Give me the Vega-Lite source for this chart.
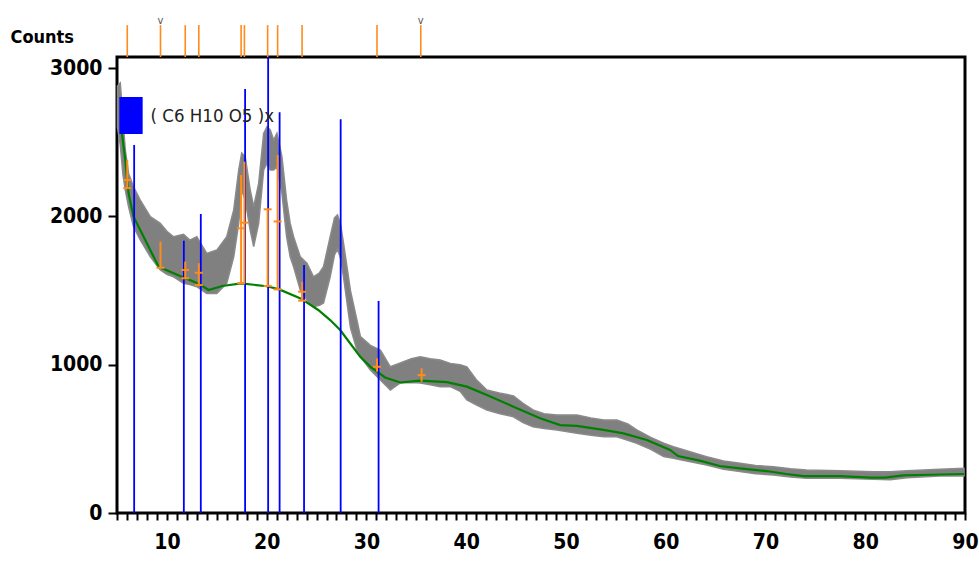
{
  "$schema": "https://vega.github.io/schema/vega-lite/v6.json",
  "width": 848,
  "height": 456,
  "autosize": "none",
  "padding": {"left": 117, "top": 57, "right": 14, "bottom": 54},
  "background": "white",
  "config": {
    "view": {"stroke": "black", "strokeWidth": 3},
    "font": "DejaVu Sans Condensed, sans-serif"
  },
  "datasets": {
    "band": [
      {"t": 5.05, "hi": 2880, "lo": 2600}, {"t": 5.33, "hi": 2900, "lo": 2480}, {"t": 5.6, "hi": 2650, "lo": 2280},
      {"t": 5.83, "hi": 2450, "lo": 2178}, {"t": 6.16, "hi": 2290, "lo": 2065}, {"t": 6.66, "hi": 2200, "lo": 1931},
      {"t": 7.33, "hi": 2110, "lo": 1841}, {"t": 8.34, "hi": 1998, "lo": 1728}, {"t": 9.34, "hi": 1953, "lo": 1639},
      {"t": 10.0, "hi": 1900, "lo": 1610}, {"t": 10.67, "hi": 1863, "lo": 1593}, {"t": 11.67, "hi": 1880, "lo": 1549},
      {"t": 12.3, "hi": 1840, "lo": 1540}, {"t": 13.0, "hi": 1863, "lo": 1526}, {"t": 14.0, "hi": 1751, "lo": 1481},
      {"t": 15.0, "hi": 1773, "lo": 1481}, {"t": 16.0, "hi": 1863, "lo": 1549}, {"t": 16.7, "hi": 2043, "lo": 1728},
      {"t": 17.2, "hi": 2313, "lo": 1953}, {"t": 17.5, "hi": 2427, "lo": 2178}, {"t": 17.85, "hi": 2403, "lo": 2110},
      {"t": 18.35, "hi": 2178, "lo": 1908}, {"t": 18.7, "hi": 2065, "lo": 1796}, {"t": 19.2, "hi": 2223, "lo": 1953},
      {"t": 19.7, "hi": 2560, "lo": 2313}, {"t": 20.03, "hi": 2605, "lo": 2358}, {"t": 20.36, "hi": 2583, "lo": 2313},
      {"t": 20.7, "hi": 2515, "lo": 2313}, {"t": 21.03, "hi": 2560, "lo": 2335}, {"t": 21.53, "hi": 2403, "lo": 2156},
      {"t": 22.0, "hi": 2110, "lo": 1863}, {"t": 22.36, "hi": 1953, "lo": 1728}, {"t": 22.7, "hi": 1863, "lo": 1661},
      {"t": 23.37, "hi": 1728, "lo": 1504}, {"t": 24.04, "hi": 1684, "lo": 1436}, {"t": 24.7, "hi": 1593, "lo": 1391},
      {"t": 25.3, "hi": 1620, "lo": 1400}, {"t": 25.7, "hi": 1661, "lo": 1416}, {"t": 26.37, "hi": 1863, "lo": 1593},
      {"t": 26.8, "hi": 1990, "lo": 1740}, {"t": 27.1, "hi": 2010, "lo": 1780}, {"t": 27.4, "hi": 1950, "lo": 1720},
      {"t": 27.7, "hi": 1821, "lo": 1593}, {"t": 28.4, "hi": 1500, "lo": 1250}, {"t": 29.05, "hi": 1300, "lo": 1100},
      {"t": 29.4, "hi": 1189, "lo": 1054}, {"t": 30.4, "hi": 1130, "lo": 964}, {"t": 31.4, "hi": 1099, "lo": 897},
      {"t": 32.4, "hi": 986, "lo": 830}, {"t": 33.4, "hi": 1011, "lo": 877}, {"t": 34.5, "hi": 1040, "lo": 880},
      {"t": 35.4, "hi": 1054, "lo": 876}, {"t": 36.4, "hi": 1040, "lo": 865}, {"t": 37.4, "hi": 1032, "lo": 852},
      {"t": 38.4, "hi": 1009, "lo": 852}, {"t": 39.4, "hi": 1000, "lo": 820}, {"t": 40.07, "hi": 986, "lo": 762},
      {"t": 41.0, "hi": 900, "lo": 730}, {"t": 42.07, "hi": 829, "lo": 695}, {"t": 43.3, "hi": 810, "lo": 670},
      {"t": 44.74, "hi": 790, "lo": 649}, {"t": 45.7, "hi": 740, "lo": 610}, {"t": 46.7, "hi": 695, "lo": 582},
      {"t": 47.8, "hi": 670, "lo": 570}, {"t": 49.1, "hi": 661, "lo": 560}, {"t": 51.1, "hi": 661, "lo": 537},
      {"t": 52.5, "hi": 640, "lo": 525}, {"t": 53.8, "hi": 627, "lo": 514}, {"t": 55.1, "hi": 627, "lo": 514},
      {"t": 56.2, "hi": 600, "lo": 490}, {"t": 57.1, "hi": 560, "lo": 470}, {"t": 58.5, "hi": 510, "lo": 430},
      {"t": 59.8, "hi": 470, "lo": 380}, {"t": 60.77, "hi": 447, "lo": 369}, {"t": 62.1, "hi": 420, "lo": 350},
      {"t": 64.1, "hi": 380, "lo": 324}, {"t": 65.8, "hi": 350, "lo": 295}, {"t": 67.45, "hi": 335, "lo": 279},
      {"t": 69.0, "hi": 320, "lo": 265}, {"t": 70.8, "hi": 312, "lo": 256}, {"t": 72.5, "hi": 298, "lo": 243},
      {"t": 74.1, "hi": 290, "lo": 234}, {"t": 77.5, "hi": 285, "lo": 234}, {"t": 80.8, "hi": 279, "lo": 227},
      {"t": 82.5, "hi": 278, "lo": 225}, {"t": 84.2, "hi": 285, "lo": 238}, {"t": 87.5, "hi": 295, "lo": 250},
      {"t": 89.9, "hi": 301, "lo": 250}
    ],
    "bg": [
      {"t": 5.5, "c": 2560}, {"t": 5.83, "c": 2380}, {"t": 6.16, "c": 2156}, {"t": 6.66, "c": 1998},
      {"t": 7.67, "c": 1863}, {"t": 9.17, "c": 1661}, {"t": 11.44, "c": 1595}, {"t": 13.25, "c": 1544},
      {"t": 14.18, "c": 1504}, {"t": 15.55, "c": 1531}, {"t": 17.45, "c": 1549}, {"t": 20.03, "c": 1529},
      {"t": 21.26, "c": 1508}, {"t": 23.52, "c": 1443}, {"t": 25.17, "c": 1369}, {"t": 26.37, "c": 1301},
      {"t": 27.37, "c": 1234}, {"t": 29.38, "c": 1054}, {"t": 30.38, "c": 987}, {"t": 31.88, "c": 914},
      {"t": 33.39, "c": 880}, {"t": 35.39, "c": 892}, {"t": 38.07, "c": 883}, {"t": 40.07, "c": 852},
      {"t": 42.07, "c": 796}, {"t": 44.74, "c": 717}, {"t": 47.41, "c": 639}, {"t": 49.42, "c": 593},
      {"t": 51.09, "c": 587}, {"t": 53.76, "c": 560}, {"t": 55.76, "c": 537}, {"t": 58.11, "c": 492},
      {"t": 60.44, "c": 425}, {"t": 61.24, "c": 384}, {"t": 63.41, "c": 353}, {"t": 65.41, "c": 317},
      {"t": 67.42, "c": 301}, {"t": 70.09, "c": 283}, {"t": 72.1, "c": 263}, {"t": 73.8, "c": 249},
      {"t": 77.48, "c": 249}, {"t": 80.48, "c": 239}, {"t": 81.98, "c": 239}, {"t": 83.82, "c": 254},
      {"t": 86.49, "c": 258}, {"t": 89.9, "c": 263}
    ],
    "ref": [
      {"t": 6.72, "c": 2481, "phase": "( C6 H10 O5 )x"}, {"t": 11.7, "c": 1836, "phase": "( C6 H10 O5 )x"},
      {"t": 13.4, "c": 2016, "phase": "( C6 H10 O5 )x"}, {"t": 17.84, "c": 2859, "phase": "( C6 H10 O5 )x"},
      {"t": 20.15, "c": 3075, "phase": "( C6 H10 O5 )x"}, {"t": 21.3, "c": 2702, "phase": "( C6 H10 O5 )x"},
      {"t": 23.75, "c": 1672, "phase": "( C6 H10 O5 )x"}, {"t": 27.42, "c": 2655, "phase": "( C6 H10 O5 )x"},
      {"t": 31.22, "c": 1430, "phase": "( C6 H10 O5 )x"}
    ],
    "pk": [
      {"t": 6.03, "lo": 2190, "hi": 2380}, {"t": 9.36, "lo": 1654, "hi": 1830}, {"t": 11.84, "lo": 1583, "hi": 1695},
      {"t": 13.2, "lo": 1537, "hi": 1684}, {"t": 17.44, "lo": 1549, "hi": 2279}, {"t": 17.77, "lo": 1549, "hi": 2369},
      {"t": 20.1, "lo": 1531, "hi": 2048}, {"t": 21.1, "lo": 1508, "hi": 2414}, {"t": 23.55, "lo": 1432, "hi": 1560},
      {"t": 31.06, "lo": 953, "hi": 1043}, {"t": 35.53, "lo": 885, "hi": 976}
    ],
    "pkt": [
      {"t": 6.03, "c": 2245}, {"t": 6.03, "c": 2191}, {"t": 9.36, "c": 1654}, {"t": 11.84, "c": 1639},
      {"t": 11.84, "c": 1583}, {"t": 13.2, "c": 1620}, {"t": 13.2, "c": 1537}, {"t": 17.44, "c": 1920},
      {"t": 17.44, "c": 1549}, {"t": 17.77, "c": 1958}, {"t": 20.1, "c": 2048}, {"t": 20.1, "c": 1531},
      {"t": 21.1, "c": 1966}, {"t": 21.1, "c": 1508}, {"t": 23.55, "c": 1492}, {"t": 23.55, "c": 1432},
      {"t": 31.06, "c": 986}, {"t": 35.53, "c": 930}
    ],
    "tops": [
      {"t": 6.03, "sym": ""}, {"t": 9.36, "sym": "v"}, {"t": 11.84, "sym": ""}, {"t": 13.2, "sym": ""},
      {"t": 17.44, "sym": ""}, {"t": 17.77, "sym": ""}, {"t": 20.1, "sym": ""}, {"t": 21.1, "sym": ""},
      {"t": 23.55, "sym": ""}, {"t": 31.06, "sym": ""}, {"t": 35.45, "sym": "v"}
    ]
  },
  "layer": [
    {
      "data": {"name": "band"},
      "mark": {"type": "area", "color": "#808080", "opacity": 1, "stroke": "#8a8a8a", "strokeWidth": 1.5},
      "encoding": {
        "x": {
          "field": "t", "type": "quantitative",
          "scale": {"domain": [5, 90], "nice": false, "zero": false},
          "axis": {
            "title": null,
            "values": [5,6,7,8,9,10,11,12,13,14,15,16,17,18,19,20,21,22,23,24,25,26,27,28,29,30,31,32,33,34,35,36,37,38,39,40,41,42,43,44,45,46,47,48,49,50,51,52,53,54,55,56,57,58,59,60,61,62,63,64,65,66,67,68,69,70,71,72,73,74,75,76,77,78,79,80,81,82,83,84,85,86,87,88,89,90],
            "tickCount": 200,
            "format": "d",
            "labelExpr": "datum.value % 10 === 0 ? datum.label : ''",
            "domain": false,
            "grid": false,
            "tickColor": "black",
            "tickWidth": 2,
            "tickSize": 7,
            "encode": {"ticks": {"update": {"y2": {"signal": "datum.value % 10 === 0 ? 14 : 7"}}}},
            "labelPadding": 11,
            "labelFont": "DejaVu Sans Condensed, sans-serif",
            "labelFontSize": 21,
            "labelFontWeight": "bold",
            "labelColor": "black",
            "labelOverlap": false,
            "labelFlush": false
          }
        },
        "y": {
          "field": "hi", "type": "quantitative",
          "scale": {"domain": [0, 3075], "nice": false},
          "axis": {
            "title": "Counts",
            "titleAngle": 0,
            "titleAlign": "left",
            "titleBaseline": "middle",
            "titleX": -107,
            "titleY": -20,
            "titleFont": "DejaVu Sans Condensed, sans-serif",
            "titleFontSize": 18,
            "titleFontWeight": "bold",
            "titleColor": "black",
            "values": [0, 1000, 2000, 3000],
            "format": "d",
            "domain": false,
            "grid": false,
            "tickColor": "black",
            "tickWidth": 2,
            "tickSize": 9,
            "labelPadding": 6,
            "labelFont": "DejaVu Sans Condensed, sans-serif",
            "labelFontSize": 21,
            "labelFontWeight": "bold",
            "labelColor": "black"
          }
        },
        "y2": {"field": "lo"}
      }
    },
    {
      "data": {"name": "bg"},
      "mark": {"type": "line", "color": "#008000", "strokeWidth": 2.2},
      "encoding": {
        "x": {"field": "t", "type": "quantitative"},
        "y": {"field": "c", "type": "quantitative", "title": "Counts"}
      }
    },
    {
      "data": {"name": "ref"},
      "mark": {"type": "rule", "strokeWidth": 1.8},
      "encoding": {
        "x": {"field": "t", "type": "quantitative"},
        "y": {"field": "c", "type": "quantitative", "title": "Counts"},
        "y2": {"datum": 0},
        "color": {
          "field": "phase", "type": "nominal",
          "scale": {"range": ["#0000ff"]},
          "legend": {
            "title": null,
            "orient": "none",
            "legendX": -4.5,
            "legendY": 40,
            "symbolType": "M-0.63,-1H0.63V1H-0.63Z",
            "symbolSize": 1369,
            "symbolFillColor": "#0000ff",
            "symbolStrokeColor": "#0000ff",
            "symbolStrokeWidth": 0,
            "labelFont": "DejaVu Sans Condensed, sans-serif",
            "labelFontSize": 18.5,
            "labelColor": "#222222",
            "labelOffset": 1,
            "padding": 0
          }
        }
      }
    },
    {
      "data": {"name": "pk"},
      "mark": {"type": "rule", "color": "#ff8c1a", "strokeWidth": 2},
      "encoding": {
        "x": {"field": "t", "type": "quantitative"},
        "y": {"field": "hi", "type": "quantitative", "title": "Counts"},
        "y2": {"field": "lo"}
      }
    },
    {
      "data": {"name": "pkt"},
      "mark": {"type": "tick", "orient": "horizontal", "color": "#ff8c1a", "size": 8, "thickness": 2, "opacity": 1},
      "encoding": {
        "x": {"field": "t", "type": "quantitative"},
        "y": {"field": "c", "type": "quantitative", "title": "Counts"}
      }
    },
    {
      "data": {"name": "tops"},
      "mark": {"type": "rule", "color": "#ff8c1a", "strokeWidth": 1.6},
      "encoding": {
        "x": {"field": "t", "type": "quantitative"},
        "y": {"datum": 3290, "type": "quantitative"},
        "y2": {"datum": 3075}
      }
    },
    {
      "data": {"name": "tops"},
      "mark": {"type": "text", "color": "#555555", "fontSize": 11, "baseline": "bottom", "dy": 1},
      "encoding": {
        "x": {"field": "t", "type": "quantitative"},
        "y": {"datum": 3290, "type": "quantitative"},
        "text": {"field": "sym"}
      }
    }
  ]
}
